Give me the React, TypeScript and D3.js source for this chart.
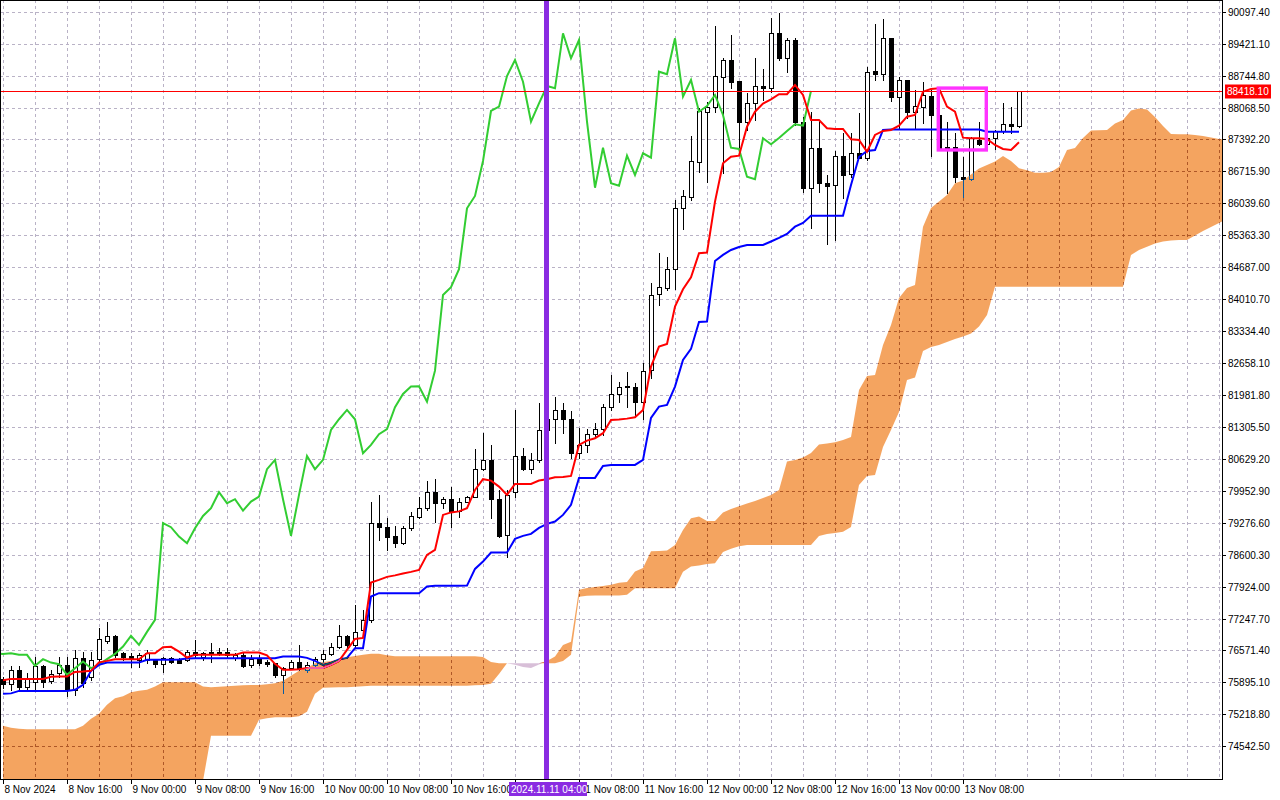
import React from "react";
import * as d3 from "d3";

// H1 bars, first bar = 8 Nov 2024 08:00
const OPEN = [
  75964, 75865, 76161, 75808, 75913, 76246, 75928, 76098, 76267, 75738,
  76415, 76019, 76394, 76781, 76880, 76527, 76457, 76373, 76373, 76387,
  76288, 76408, 76387, 76373, 76548, 76443, 76548, 76548, 76548, 76408,
  76479, 76267, 76387, 76336, 76303, 76055, 76197, 76336, 76161, 76267,
  76394, 76499, 76654, 76880, 76690, 77007, 77220, 79267, 79195, 78998,
  78843, 79161, 79406, 79584, 79923, 79690, 79775, 79534, 79724, 79830,
  80410, 80607, 79775, 79019, 79923, 80692, 80410, 80607, 81242, 81468,
  81665, 81468, 80749, 80924, 81151, 81257, 81723, 82004, 82159, 82159,
  81841, 82512, 84121, 84242, 84644, 85935, 86181, 86922, 87980, 88086,
  88721, 89075, 88630, 87769, 88158, 88524, 88476, 89640, 89111, 89498,
  87769, 86371, 87218, 86464, 86428, 87049, 86655, 87100, 87006, 88842,
  88772, 89534, 88298, 88651, 87980, 88086, 88319, 87910, 87227, 87227,
  86604, 86549, 87381, 87290, 87430, 87572, 87720, 87684,
];
const HIGH = [
  76013, 76246, 76246, 76098, 76443, 76267, 76161, 76443, 76443, 76584,
  76548, 76548, 77050, 77183, 76902, 76542, 76514, 76514, 76584, 76394,
  76443, 76443, 76408, 76584, 76796, 76548, 76726, 76620, 76620, 76527,
  76514, 76479, 76479, 76373, 76315, 76218, 76373, 76690, 76336, 76430,
  76584, 76726, 77113, 76902, 77537, 77431, 79724, 79866, 79373, 79210,
  79210, 79512, 79830, 80169, 80198, 79830, 80042, 79796, 79845, 80833,
  81172, 80924, 79972, 79972, 81665, 80855, 80749, 81807, 81792, 81947,
  81807, 81650, 81278, 81257, 81397, 81792, 82406, 82264, 82476, 82243,
  82654, 84347, 84982, 84910, 86111, 86323, 87466, 88059, 88192, 89801,
  89111, 89604, 88630, 88370, 89111, 88884, 89958, 90063, 89534, 89534,
  87874, 87980, 87805, 86640, 87148, 87523, 87523, 87946, 88933, 89837,
  89943, 89534, 88721, 88651, 88440, 88615, 88440, 87974, 87769, 87523,
  87028, 87451, 87769, 87593, 87593, 88158, 88073, 88419,
];
const LOW = [
  75780, 75738, 75738, 75738, 75738, 75808, 75886, 76019, 75610, 75631,
  75808, 75949, 76309, 76732, 76443, 76373, 76231, 76231, 76309, 76224,
  76125, 76309, 76303, 76358, 76443, 76373, 76336, 76479, 76443, 76373,
  76231, 76218, 76267, 76246, 76019, 75667, 76176, 76161, 76125, 76218,
  76336, 76479, 76620, 76654, 76654, 76938, 77177, 78913, 78701, 78771,
  78828, 79125, 79373, 79548, 79301, 79584, 79195, 79406, 79718, 79817,
  80395, 79373, 78983, 78560, 79830, 80395, 80325, 80571, 81094, 80960,
  81172, 80649, 80649, 80783, 81100, 81136, 81665, 81841, 81735, 81524,
  81481, 82336, 83888, 84206, 84220, 85491, 86111, 86710, 86498, 87980,
  86676, 88476, 87134, 87593, 87805, 88228, 88391, 89075, 88827, 87699,
  86287, 85525, 86287, 85173, 85264, 86160, 86604, 86994, 86958, 88651,
  88651, 88207, 87629, 87841, 87629, 87735, 87049, 87169, 86253, 86498,
  86181, 86534, 87275, 87254, 87191, 87523, 87523, 87663,
];
const CLOSE = [
  75865, 76161, 75808, 75985, 76246, 75913, 76076, 76267, 75738, 76415,
  75892, 76373, 76817, 76880, 76479, 76443, 76387, 76479, 76514, 76288,
  76408, 76336, 76315, 76548, 76479, 76514, 76499, 76514, 76479, 76479,
  76246, 76387, 76315, 76281, 76055, 76197, 76336, 76197, 76267, 76387,
  76499, 76654, 76880, 76690, 76965, 77219, 79267, 79182, 78983, 78843,
  79161, 79421, 79584, 79923, 79690, 79775, 79534, 79724, 79830, 80410,
  80607, 79775, 78998, 79866, 80692, 80410, 80607, 81242, 81468, 81665,
  81468, 80749, 80924, 81151, 81257, 81723, 82004, 82159, 82167, 81841,
  82497, 84100, 84263, 84644, 85935, 86196, 86937, 87995, 88086, 88736,
  89075, 88615, 87769, 88158, 88524, 88476, 89640, 89111, 89498, 87769,
  86371, 87218, 86464, 86414, 87049, 86640, 87100, 87006, 88827, 88772,
  89534, 88298, 88651, 87980, 88101, 88334, 87910, 87218, 87191, 86604,
  86549, 87417, 87290, 87423, 87572, 87714, 87684, 88418.1,
];

const TENKAN = [
  75939, 75970, 75970, 75970, 75970, 75970, 76013, 76019, 76019, 76118,
  76125, 76140, 76320, 76351, 76387, 76387, 76387, 76387, 76514, 76514,
  76641, 76648, 76548, 76422, 76479, 76479, 76479, 76479, 76479, 76479,
  76527, 76527, 76527, 76468, 76288, 76161, 76161, 76176, 76203, 76203,
  76203, 76267, 76351, 76584, 76817, 76838, 78009, 78066, 78130, 78162,
  78200, 78236, 78278, 78596, 78701, 79442, 79495, 79517, 79584, 79972,
  80198, 80169, 80042, 79866, 80099, 80099, 80099, 80169, 80198, 80240,
  80247, 80268, 80924, 81015, 81066, 81172, 81454, 81460, 81481, 81511,
  81665, 82582, 83005, 83062, 83852, 84220, 84474, 84982, 84997, 86075,
  86888, 87028, 87049, 87663, 87980, 88150, 88243, 88349, 88349, 88546,
  88334, 87805, 87805, 87629, 87614, 87614, 87396, 87382, 87134, 87487,
  87572, 87593, 87684, 87874, 87910, 88404, 88461, 88476, 88086, 87980,
  87430, 87417, 87417, 87402, 87275, 87191, 87169, 87332,
];
const KIJUN = [
  75653, 75663, 75716, 75716, 75716, 75716, 75716, 75716, 75716, 75738,
  75843, 76140, 76267, 76315, 76315, 76315, 76315, 76315, 76373, 76373,
  76373, 76373, 76383, 76404, 76408, 76408, 76408, 76408, 76408, 76408,
  76408, 76408, 76408, 76408, 76408, 76443, 76443, 76443, 76415, 76351,
  76267, 76309, 76383, 76415, 76620, 76620, 77713, 77785, 77785, 77785,
  77785, 77785, 77785, 77925, 77940, 77940, 77940, 77940, 77946, 78299,
  78454, 78644, 78644, 78644, 78934, 78998, 79040, 79167, 79252, 79301,
  79442, 79654, 80226, 80226, 80226, 80480, 80501, 80501, 80501, 80501,
  80607, 81496, 81735, 81771, 82159, 82724, 82957, 83528, 83535, 84820,
  84947, 85052, 85116, 85158, 85158, 85158, 85232, 85307, 85391, 85546,
  85624, 85779, 85779, 85779, 85779, 85779, 86429, 87021, 87148, 87169,
  87593, 87604, 87604, 87604, 87604, 87604, 87604, 87604, 87604, 87604,
  87604, 87604, 87604, 87557, 87557, 87557, 87557, 87557,
];
// Senkou spans, already shifted 26 bars forward (154 values)
const SPAN_A = [
  74976, 74933, 74912, 74906, 74906, 74906, 74906, 74906, 74906, 74906,
  74976, 75124, 75230, 75420, 75562, 75600, 75685, 75717, 75738, 75808,
  75901, 75901, 75901, 75901, 75901, 75808, 75795, 75801, 75812, 75822,
  75833, 75843, 75843, 75858, 75879, 75928, 76034, 76140, 76203, 76303,
  76330, 76351, 76379, 76426, 76457, 76479, 76500, 76500, 76468, 76451,
  76451, 76451, 76451, 76451, 76451, 76451, 76451, 76451, 76451, 76447,
  76436, 76330, 76303, 76299, 76267, 76224, 76203, 76277, 76351, 76443,
  76690, 76754, 77855, 77897, 77918, 77939, 77961, 78003, 78024, 78246,
  78320, 78670, 78680, 78691, 78807, 79125, 79373, 79406, 79315, 79315,
  79491, 79569, 79627, 79686, 79739, 79802, 79866, 79972, 80575, 80607,
  80660, 80755, 80935, 80956, 80982, 81030, 81094, 82089, 82385, 82406,
  83041, 83464, 84036, 84248, 84311, 85546, 85942, 86079, 86217, 86465,
  86524, 86651, 86778, 86852, 86926, 87043, 86937, 86782, 86740, 86689,
  86689, 86704, 86810, 87170, 87212, 87424, 87582, 87587, 87593, 87731,
  87805, 88006, 88048, 88027, 87868, 87678, 87508, 87504, 87502, 87487,
  87466, 87434, 87402, 87381,
];
const SPAN_B = [
  73705, 73705, 73705, 73705, 73705, 73705, 73705, 73705, 73705, 73705,
  73705, 73705, 73705, 73705, 73705, 73705, 73705, 73705, 73705, 73705,
  73705, 73705, 73705, 73705, 73705, 73811, 74764, 74764, 74764, 74764,
  74764, 74764, 75103, 75134, 75155, 75160, 75160, 75177, 75272, 75653,
  75780, 75786, 75791, 75795, 75801, 75812, 75822, 75822, 75822, 75822,
  75822, 75822, 75822, 75822, 75822, 75822, 75822, 75822, 75822, 75833,
  75843, 75865, 76076, 76303, 76303, 76303, 76303, 76303, 76299, 76303,
  76351, 76479, 77707, 77728, 77738, 77738, 77738, 77738, 77749, 77891,
  77891, 77891, 77891, 77891, 77891, 78236, 78348, 78373, 78405, 78420,
  78659, 78723, 78776, 78807, 78807, 78807, 78807, 78807, 78807, 78807,
  78807, 78807, 78998, 79040, 79061, 79083, 79188, 80077, 80268, 80289,
  80882, 81242, 81623, 82300, 82353, 82914, 82999, 83041, 83105, 83168,
  83221, 83285, 83433, 83676, 84275, 84275, 84275, 84275, 84275, 84275,
  84275, 84275, 84275, 84275, 84275, 84275, 84275, 84275, 84275, 84275,
  84275, 84947, 85052, 85122, 85190, 85232, 85254, 85264, 85264, 85359,
  85455, 85540, 85624, 85709,
];

const PRICE_TICKS = [
  "90097.40", "89421.10", "88744.80", "88068.50", "87392.20", "86715.90",
  "86039.60", "85363.30", "84687.00", "84010.70", "83334.40", "82658.10",
  "81981.80", "81305.50", "80629.20", "79952.90", "79276.60", "78600.30",
  "77924.00", "77247.70", "76571.40", "75895.10", "75218.80", "74542.50",
];
const TIME_LABELS = [
  "8 Nov 2024", "8 Nov 16:00", "9 Nov 00:00", "9 Nov 08:00", "9 Nov 16:00",
  "10 Nov 00:00", "10 Nov 08:00", "10 Nov 16:00", "11 Nov 00:00", "11 Nov 08:00",
  "11 Nov 16:00", "12 Nov 00:00", "12 Nov 08:00", "12 Nov 16:00", "13 Nov 00:00",
  "13 Nov 08:00",
];
const BARS_PER_LABEL = 8;
const SHIFT = 26;
const CURRENT_PRICE = 88418.1;
const CURSOR = { bar: 68, label: "2024.11.11 04:00" };
const HIGHLIGHT = { fromBar: 117, toBar: 123, high: 88480, low: 87170 };

const W = 1280;
const H = 800;
const RIGHT = 1222;
const BOTTOM = 779;
const FONT = "'Liberation Sans', Arial, sans-serif";

type CloudPt = { i: number; a: number; b: number };

export default function App() {
  const x = d3.scaleLinear().domain([0, 127]).range([3, 1019]);
  const y = d3.scaleLinear().domain([74542.5, 90097.4]).range([746.3, 11.7]);

  const line = d3
    .line<[number, number]>()
    .x((d) => x(d[0]))
    .y((d) => y(d[1]));

  const tenkan = TENKAN.map((v, i) => [i, v] as [number, number]);
  const kijun = KIJUN.map((v, i) => [i, v] as [number, number]);
  const chikou = CLOSE.map((v, i) => [i - SHIFT, v] as [number, number]);

  const cloud: CloudPt[] = SPAN_A.map((a, i) => ({ i, a, b: SPAN_B[i] }));
  // span A above span B -> sandy brown, below -> thistle
  const upCloud = d3
    .area<CloudPt>()
    .x((d) => x(d.i))
    .y0((d) => y(d.b))
    .y1((d) => y(Math.max(d.a, d.b)));
  const downCloud = d3
    .area<CloudPt>()
    .x((d) => x(d.i))
    .y0((d) => y(d.a))
    .y1((d) => y(Math.max(d.a, d.b)));

  const gridBars = d3.range(0, 160, 4).filter((b) => x(b) < RIGHT);
  const priceY = Math.round(y(CURRENT_PRICE)) + 0.5;
  const cursorX = x(CURSOR.bar);
  const cursorLeft = cursorX - 38;
  const cursorRight = cursorX + 40;

  return (
    <>
      <style>{"body{margin:0;background:#fff}"}</style>
      <svg width={W} height={H} style={{ display: "block" }} fontFamily={FONT}>
        <defs>
          <clipPath id="plot">
            <rect x={0} y={0} width={RIGHT} height={BOTTOM} />
          </clipPath>
        </defs>
        <rect width={W} height={H} fill="#ffffff" />

        <g clipPath="url(#plot)" style={{ isolation: "isolate" }}>
          <rect x={0} y={0} width={RIGHT} height={BOTTOM} fill="#ffffff" />

          {/* grid */}
          <g stroke="#b9b2c6" strokeDasharray="3,3" shapeRendering="crispEdges">
            {PRICE_TICKS.map((t) => {
              const yy = Math.round(y(parseFloat(t))) + 0.5;
              return <line key={t} x1={0} x2={RIGHT} y1={yy} y2={yy} />;
            })}
            {gridBars.map((b) => {
              const xx = Math.round(x(b)) + 0.5;
              return <line key={b} x1={xx} x2={xx} y1={0} y2={BOTTOM} />;
            })}
          </g>

          {/* candles */}
          <g shapeRendering="crispEdges">
            {OPEN.map((o, i) => {
              const c = CLOSE[i];
              const cx = Math.round(x(i));
              const top = Math.round(y(Math.max(o, c)));
              const bot = Math.round(y(Math.min(o, c)));
              const bull = c >= o;
              return (
                <g key={i}>
                  <line
                    x1={cx + 0.5}
                    x2={cx + 0.5}
                    y1={Math.round(y(HIGH[i]))}
                    y2={Math.round(y(LOW[i])) + 1}
                    stroke="#000"
                  />
                  {bull ? (
                    <rect
                      x={cx - 1.5}
                      y={top + 0.5}
                      width={4}
                      height={Math.max(bot - top, 0)}
                      fill="#fff"
                      stroke="#000"
                    />
                  ) : (
                    <rect x={cx - 2} y={top} width={5} height={Math.max(bot - top + 1, 1)} fill="#000" />
                  )}
                </g>
              );
            })}
          </g>

          {/* ichimoku lines */}
          <path d={line(chikou) ?? ""} fill="none" stroke="#32cd32" strokeWidth={2} />
          <path d={line(kijun) ?? ""} fill="none" stroke="#0000ff" strokeWidth={2} />
          <path d={line(tenkan) ?? ""} fill="none" stroke="#ff0000" strokeWidth={2} />

          {/* kumo, drawn like MT5 (inverting fill) */}
          <path d={upCloud(cloud) ?? ""} fill="#0b5b9f" style={{ mixBlendMode: "difference" }} />
          <path d={downCloud(cloud) ?? ""} fill="#274027" style={{ mixBlendMode: "difference" }} />

          {/* current price */}
          <rect x={0} y={priceY - 0.5} width={RIGHT} height={1} fill="#ff0000" />

          {/* cursor line */}
          <rect x={cursorX - 3} y={0} width={5} height={BOTTOM} fill="#8a2be2" />

          {/* highlight box */}
          <rect
            x={x(HIGHLIGHT.fromBar) - 0.7}
            y={y(HIGHLIGHT.high)}
            width={x(HIGHLIGHT.toBar) - x(HIGHLIGHT.fromBar)}
            height={y(HIGHLIGHT.low) - y(HIGHLIGHT.high)}
            fill="none"
            stroke="#ff33ff"
            strokeWidth={3.4}
          />
        </g>

        {/* frame */}
        <rect x={0.5} y={0.5} width={RIGHT - 0.5} height={BOTTOM - 0.5} fill="none" stroke="#000" shapeRendering="crispEdges" />

        {/* price axis */}
        <g fontSize={10} fill="#000">
          {PRICE_TICKS.map((t) => {
            const yy = Math.round(y(parseFloat(t))) + 0.5;
            return (
              <g key={t}>
                <line x1={RIGHT} x2={RIGHT + 4} y1={yy} y2={yy} stroke="#000" shapeRendering="crispEdges" />
                <text x={RIGHT + 6} y={yy + 3.5}>{t}</text>
              </g>
            );
          })}
        </g>
        <rect x={RIGHT + 3} y={priceY - 7} width={46} height={14} fill="#ff0000" />
        <text x={RIGHT + 5} y={priceY + 3.5} fontSize={10} fill="#fff">
          {CURRENT_PRICE.toFixed(2)}
        </text>

        {/* time axis */}
        <g fontSize={10} fill="#000">
          {TIME_LABELS.map((t, k) => {
            const xx = Math.round(x(k * BARS_PER_LABEL)) + 0.5;
            // label fully under the cursor tag is not visible
            const hidden = xx + 1 >= cursorLeft && xx + 58 <= cursorRight;
            return (
              <g key={t}>
                <line x1={xx} x2={xx} y1={BOTTOM} y2={BOTTOM + 5} stroke="#000" shapeRendering="crispEdges" />
                {!hidden && <text x={xx + 1} y={793}>{t}</text>}
              </g>
            );
          })}
        </g>
        <rect x={cursorLeft} y={782} width={cursorRight - cursorLeft} height={14} fill="#8a2be2" />
        <text x={cursorLeft + 2} y={793} fontSize={10} fill="#fff">
          {CURSOR.label}
        </text>
      </svg>
    </>
  );
}
